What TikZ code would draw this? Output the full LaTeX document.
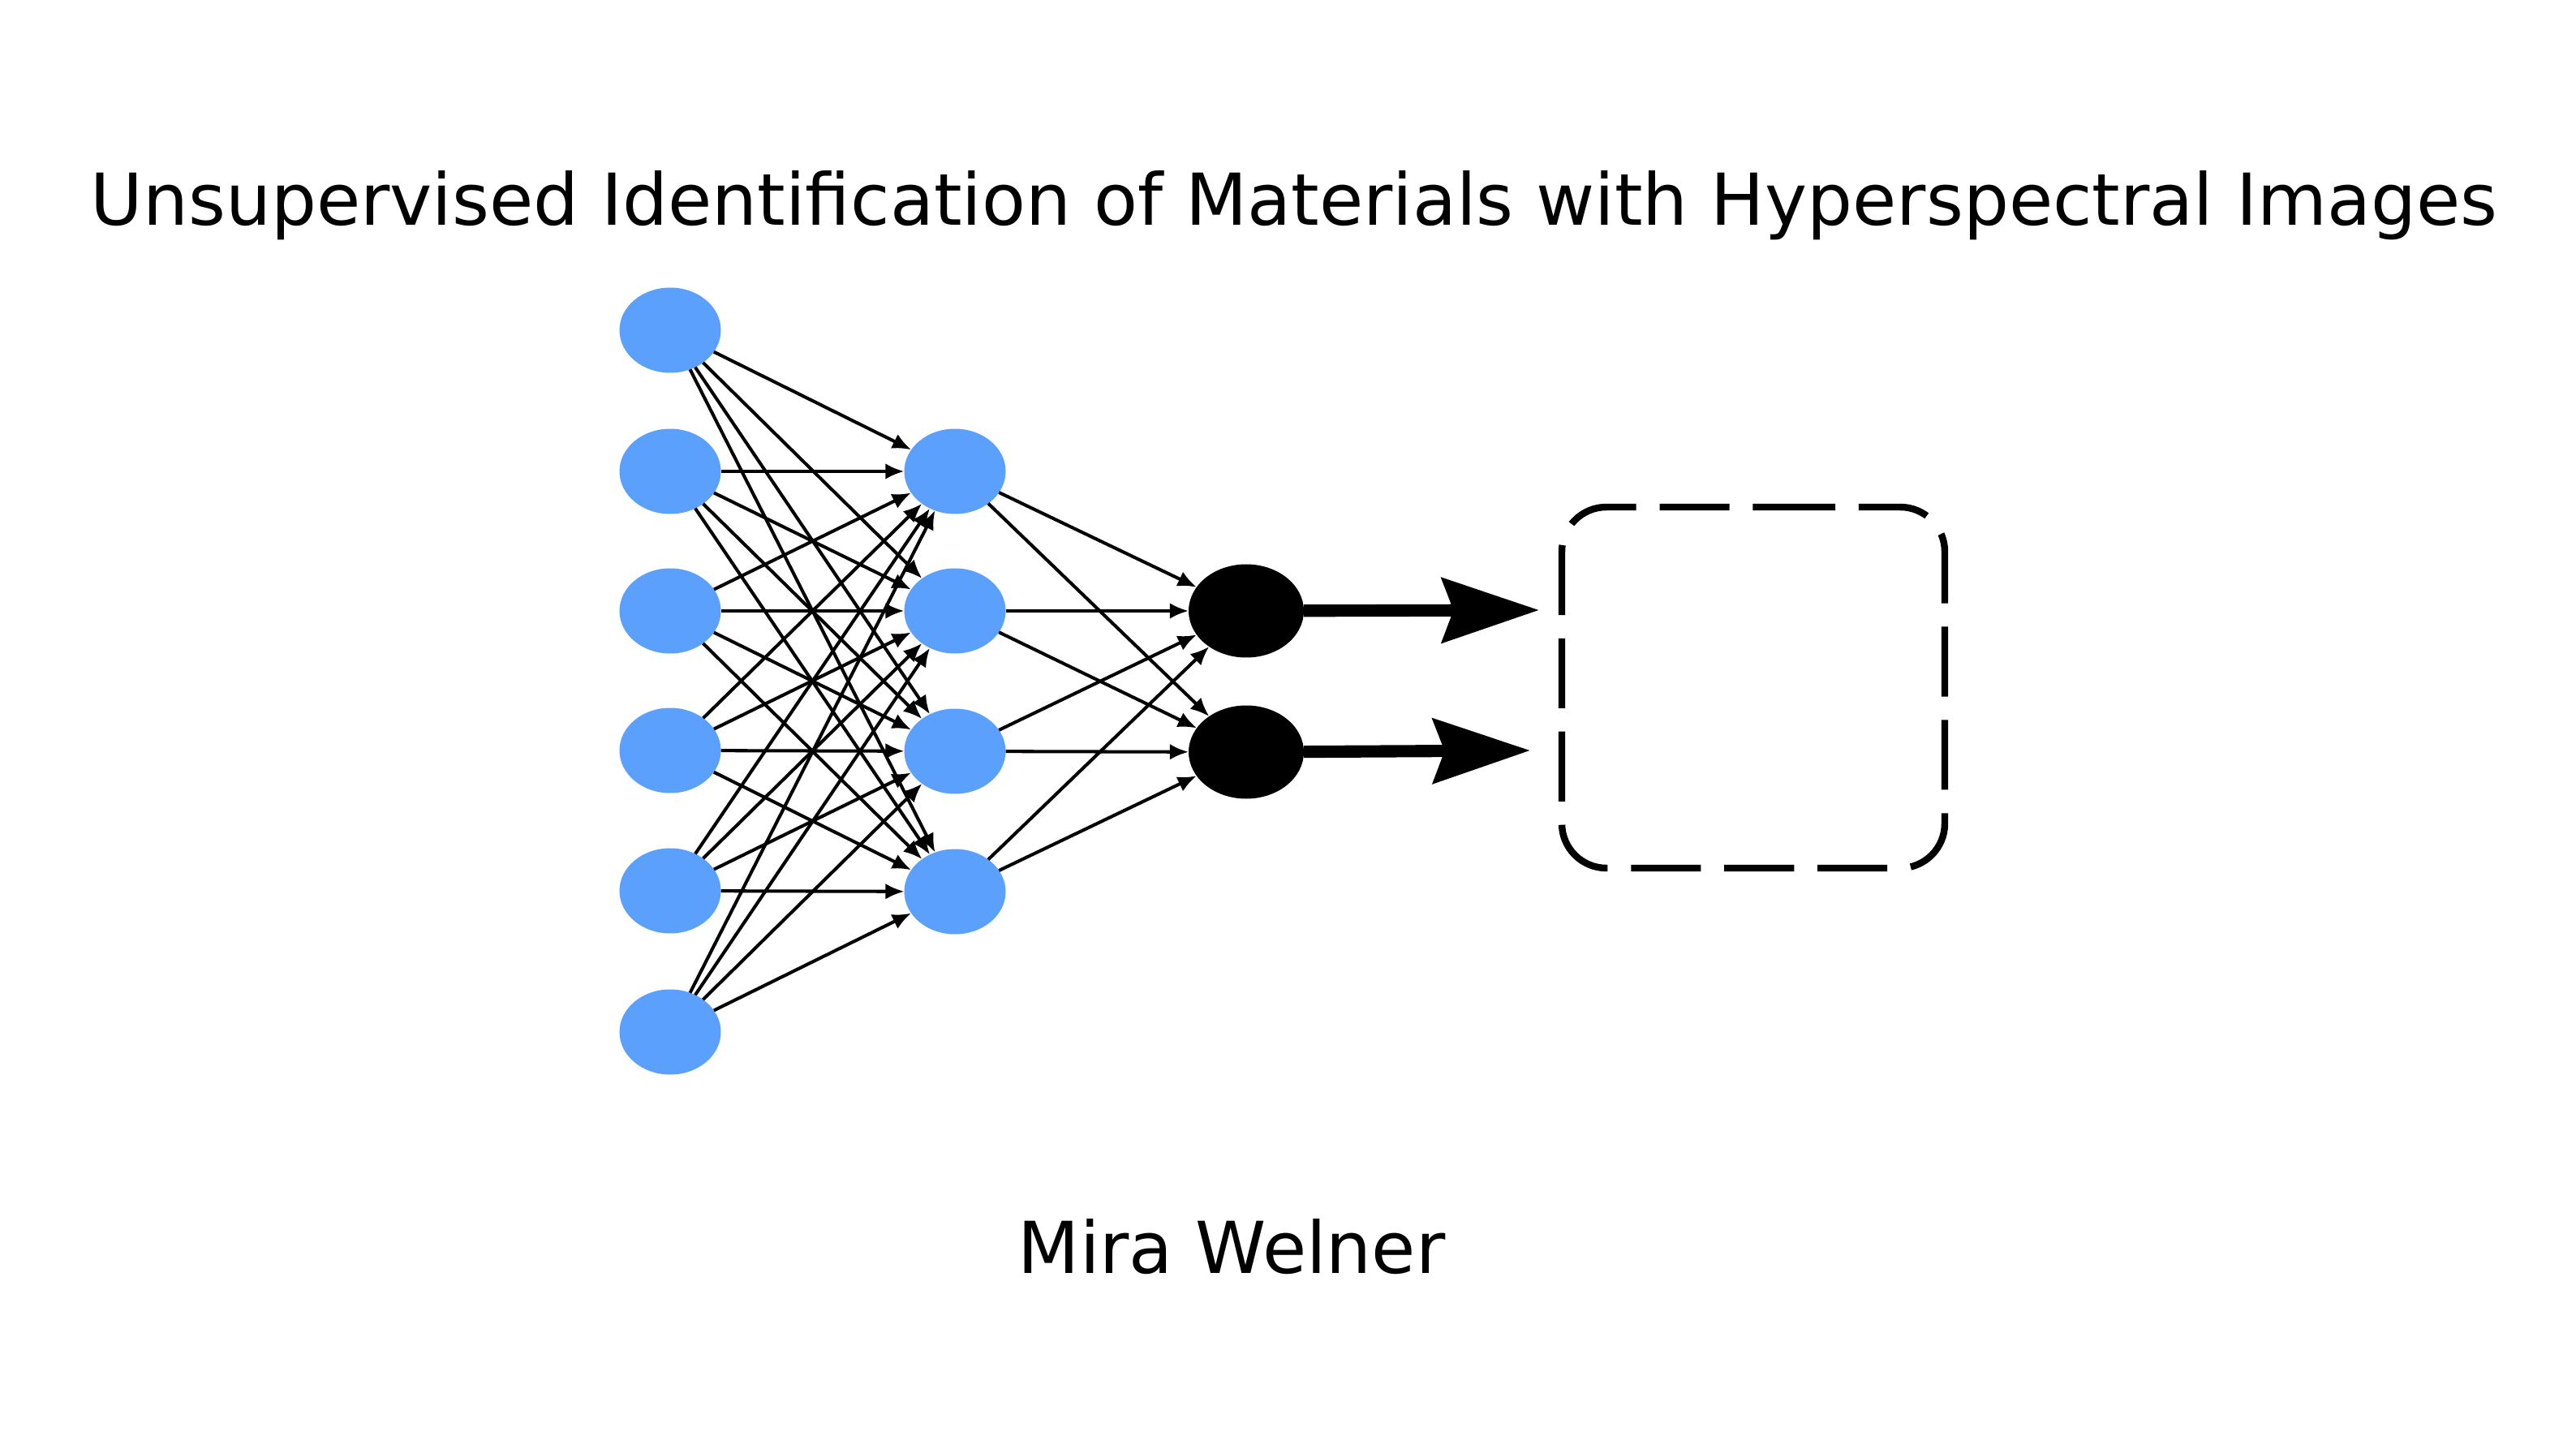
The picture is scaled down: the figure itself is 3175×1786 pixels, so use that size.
\documentclass[tikz,border=0pt]{standalone}
\usepackage{fontspec}
\setmainfont{DejaVu Sans}
\usetikzlibrary{shapes.geometric,arrows.meta}
\definecolor{neuron}{RGB}{91,160,253}
\begin{document}
\begin{tikzpicture}[x=0.1mm,y=-0.1mm,
  inneuron/.style={ellipse, fill=neuron, inner sep=0pt, outer sep=0pt, minimum width=12.5mm, minimum height=10.5mm},
  outneuron/.style={ellipse, fill=black, inner sep=0pt, outer sep=0pt, minimum width=14.2mm, minimum height=11.5mm},
  conn/.style={line width=1.15pt, -{Latex[length=6.6pt,width=5.6pt]}},
  bigarrow/.style={line width=4.3pt, -{Stealth[length=34pt,width=22.5pt,inset=4pt]}},
  bigtext/.style={font=\fontsize{25.1pt}{30pt}\selectfont, inner sep=0pt, anchor=base},
  boxline/.style={draw, line width=2.4pt, dash pattern=on 24.5pt off 8.2pt, rounded corners=5.5mm}]
\useasboundingbox (0,0) rectangle (3175,1786);
% title and author
\node[bigtext] (title) at (1595,278) {Unsupervised Identification of Materials with Hyperspectral Images};
\node[bigtext] (author) at (1518,1569) {Mira Welner};
% input layer
\foreach \i/\y in {1/407,2/581,3/753,4/925,5/1098,6/1272}
  \node[inneuron] (in\i) at (826,\y) {};
% hidden layer
\foreach \j/\y in {1/581,2/753,3/926,4/1099}
  \node[inneuron] (h\j) at (1177,\y) {};
% output layer
\node[outneuron] (o1) at (1536,753) {};
\node[outneuron] (o2) at (1536,927) {};
% connections
\foreach \i in {1,...,6}
  \foreach \j in {1,...,4}
    \draw[conn] (in\i) -- (h\j);
\foreach \j in {1,...,4}
  \foreach \k in {1,2}
    \draw[conn] (h\j) -- (o\k);
% result box (dashed, rounded)
\coordinate (boxstart) at (2121,625);
\coordinate (boxse) at (2397,1070);
\coordinate (boxnw) at (1925,625);
\draw[boxline] (boxstart) -| (boxse) -| (boxnw) -- cycle;
% outputs into the box
\coordinate (tip1) at (1897,752);
\coordinate (tip2) at (1886,925);
\draw[bigarrow] (o1) -- (tip1);
\draw[bigarrow] (o2) -- (tip2);
\end{tikzpicture}
\end{document}
